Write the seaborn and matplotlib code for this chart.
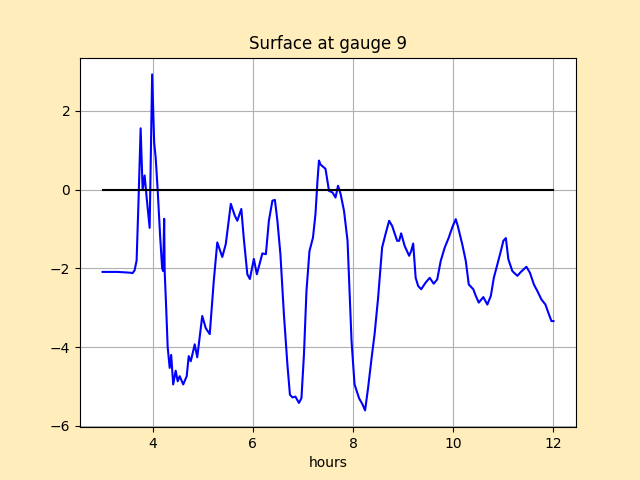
import numpy as np
import pandas as pd
import seaborn as sns
import matplotlib.pyplot as plt

# gauge 9 surface elevation
hours = [3.0, 3.3, 3.55, 3.6, 3.64, 3.68, 3.72, 3.76, 3.8, 3.84, 3.88, 3.94, 3.99, 4.03,
         4.06, 4.1, 4.15, 4.19, 4.21, 4.23, 4.24, 4.27, 4.30, 4.34, 4.37, 4.41, 4.46,
         4.50, 4.54, 4.61, 4.68, 4.72, 4.76, 4.78, 4.84, 4.89, 4.99, 5.06, 5.14, 5.22,
         5.29, 5.39, 5.46, 5.56, 5.64, 5.69, 5.77, 5.82, 5.89, 5.94, 6.02, 6.08, 6.12,
         6.19, 6.26, 6.32, 6.39, 6.44, 6.49, 6.55, 6.62, 6.69, 6.74, 6.79, 6.85, 6.92,
         6.97, 7.02, 7.07, 7.13, 7.2, 7.25, 7.29, 7.32, 7.35, 7.45, 7.52, 7.59, 7.65,
         7.7, 7.75, 7.82, 7.89, 7.93, 7.97, 8.03, 8.12, 8.19, 8.24, 8.3, 8.37, 8.43,
         8.5, 8.58, 8.65, 8.72, 8.78, 8.88, 8.92, 8.96, 9.03, 9.12, 9.16, 9.2, 9.25,
         9.3, 9.36, 9.45, 9.53, 9.61, 9.68, 9.75, 9.83, 9.91, 9.98, 10.05, 10.09,
         10.18, 10.25, 10.31, 10.4, 10.45, 10.51, 10.6, 10.68, 10.75, 10.81, 10.88,
         10.95, 11.0, 11.05, 11.1, 11.18, 11.28, 11.35, 11.46, 11.53, 11.61, 11.68,
         11.76, 11.84, 11.91, 11.96, 12.0]
eta = [-2.09, -2.09, -2.11, -2.12, -2.05, -1.8, -0.2, 1.56, 0.0, 0.36, -0.2, -0.97, 2.93, 1.2,
       0.82, 0.0, -1.2, -2.0, -2.07, -0.74, -2.07, -3.0, -4.0, -4.53, -4.2, -4.95, -4.6,
       -4.87, -4.74, -4.95, -4.74, -4.23, -4.36, -4.26, -3.93, -4.26, -3.21, -3.52, -3.67,
       -2.32, -1.34, -1.71, -1.38, -0.36, -0.66, -0.79, -0.49, -1.25, -2.15, -2.27, -1.76,
       -2.15, -1.96, -1.62, -1.64, -0.79, -0.28, -0.26, -0.79, -1.64, -3.17, -4.45, -5.21,
       -5.28, -5.26, -5.42, -5.3, -4.19, -2.58, -1.56, -1.22, -0.62, 0.23, 0.74, 0.64,
       0.53, -0.03, -0.07, -0.2, 0.1, -0.1, -0.54, -1.3, -2.58, -3.85, -4.95, -5.3, -5.46,
       -5.61, -5.04, -4.28, -3.67, -2.75, -1.47, -1.12, -0.79, -0.92, -1.3, -1.3, -1.11,
       -1.43, -1.68, -1.56, -1.37, -2.24, -2.45, -2.53, -2.36, -2.24, -2.39, -2.28, -1.81,
       -1.47, -1.22, -0.96, -0.75, -0.92, -1.39, -1.81, -2.41, -2.53, -2.7, -2.87, -2.73,
       -2.92, -2.7, -2.24, -1.9, -1.56, -1.3, -1.23, -1.77, -2.07, -2.19, -2.09, -1.96,
       -2.11, -2.41, -2.58, -2.79, -2.92, -3.17, -3.34, -3.34]

sea_level_t = [3.0, 12.0]
sea_level = [0.0, 0.0]

df = pd.DataFrame({'hours': hours, 'eta': eta})
ref = pd.DataFrame({'hours': sea_level_t, 'eta': sea_level})

fig, ax = plt.subplots(figsize=(6.4, 4.8), dpi=100)
fig.set_facecolor('#ffedbb')

sns.lineplot(data=df, x='hours', y='eta', color='b', estimator=None, sort=False, ax=ax)
sns.lineplot(data=ref, x='hours', y='eta', color='k', estimator=None, sort=False, ax=ax)

ax.grid(True)
ax.set_title('Surface at gauge 9')
ax.set_xlabel('hours')
ax.set_ylabel('')

plt.savefig('out.png', facecolor=fig.get_facecolor())
